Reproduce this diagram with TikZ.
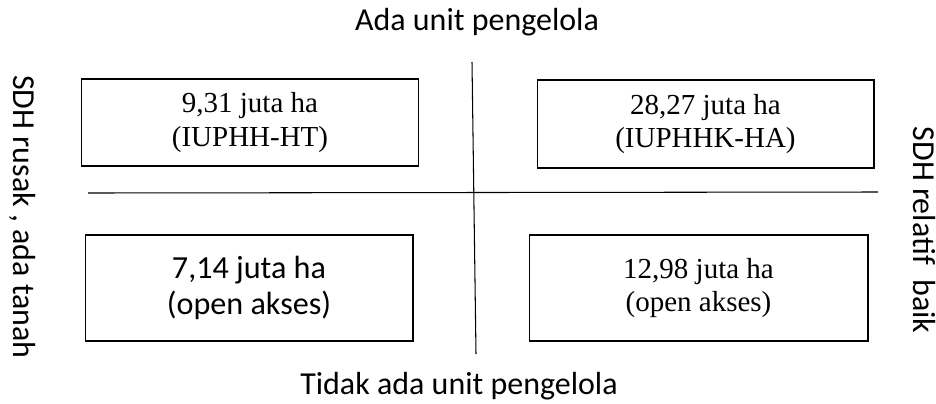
\documentclass[tikz,border=0pt]{standalone}
\usepackage{fontspec}
\setmainfont{Liberation Serif}
\newfontfamily\calibri{Carlito}
\usetikzlibrary{positioning}

\tikzset{
  areabox/.style={draw, line width=0.6pt, inner sep=0pt, align=center},
  serifnum/.style={font=\fontsize{16.5}{19.3}\selectfont},
  sansnum/.style={font=\calibri\fontsize{18.3}{20.6}\selectfont},
  axislabel/.style={font=\calibri\fontsize{18.2}{20}\selectfont},
  axisline/.style={line width=0.6pt}
}

\begin{document}
\begin{tikzpicture}[x=0.02cm, y=-0.02cm]
\useasboundingbox (0,0) rectangle (936,403);
% quadrant lines
\coordinate (vtop) at (472,62);
\coordinate (vbot) at (476,354);
\coordinate (hleft) at (88,193);
\coordinate (hright) at (878,192);
\draw[axisline] (vtop) -- (vbot);
\draw[axisline] (hleft) -- (hright);
% areas
\node[areabox, serifnum, minimum width=6.76cm, minimum height=1.74cm] (ht) at (250,122.5) {9,31 juta ha\\(IUPHH-HT)};
\node[areabox, serifnum, minimum width=6.74cm, minimum height=1.76cm] (ha) at (705.5,124) {28,27 juta ha\\(IUPHHK-HA)};
\node[areabox, sansnum, minimum width=6.56cm, minimum height=2.12cm] (oaleft) at (249,288) {7,14 juta ha\\(open akses)};
\node[areabox, serifnum, minimum width=6.78cm, minimum height=2.12cm] (oaright) at (698.5,288) {12,98 juta ha\\(open akses)};
% axis labels
\node[axislabel] (top) at (477,22) {Ada unit pengelola};
\node[axislabel] (bottom) at (459,386) {Tidak ada unit pengelola};
\node[axislabel, rotate=-90] (left) at (23,217) {SDH rusak , ada tanah};
\node[axislabel, rotate=-90] (right) at (924,230) {SDH relatif\ \ baik};
\end{tikzpicture}
\end{document}
